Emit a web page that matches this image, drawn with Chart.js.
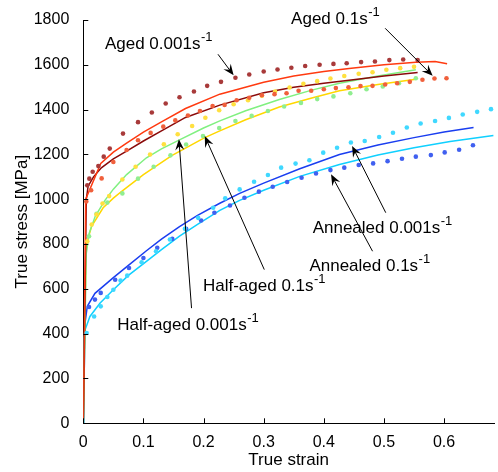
<!DOCTYPE html>
<html>
<head>
<meta charset="utf-8">
<script src="https://cdn.jsdelivr.net/npm/chart.js@4.4.0/dist/chart.umd.min.js"></script>
<style>
body{margin:0;background:#fff;}
</style>
</head>
<body>
<canvas id="stressChart" width="498" height="472"></canvas>
<script>
// tick labels
var xTicks = [0, 0.1, 0.2, 0.3, 0.4, 0.5, 0.6];
var yTicks = [0, 200, 400, 600, 800, 1000, 1200, 1400, 1600, 1800];

// model curves (solid lines)
var redLineX = [0, 0.004, 0.029, 0.05, 0.072, 0.1, 0.13, 0.17, 0.227, 0.3, 0.35, 0.4, 0.442, 0.5, 0.553, 0.585, 0.605];
var redLineY = [0, 1000, 1160, 1210, 1250, 1300, 1345, 1405, 1469, 1522, 1550, 1570, 1584, 1600, 1611, 1615, 1605];
var maroonLineX = [0, 0.005, 0.008, 0.017, 0.03, 0.05, 0.072, 0.1, 0.13, 0.17, 0.227, 0.3, 0.35, 0.4, 0.442, 0.5, 0.556];
var maroonLineY = [0, 1000, 1058, 1100, 1140, 1180, 1215, 1260, 1305, 1365, 1420, 1475, 1500, 1518, 1531, 1550, 1566];
var greenLineX = [0, 0.005, 0.01, 0.02, 0.036, 0.05, 0.072, 0.105, 0.13, 0.16, 0.2, 0.227, 0.27, 0.326, 0.38, 0.426, 0.49, 0.553];
var greenLineY = [0, 760, 850, 925, 995, 1045, 1110, 1185, 1225, 1265, 1318, 1350, 1395, 1445, 1487, 1518, 1550, 1578];
var yellowLineX = [0, 0.004, 0.0056, 0.014, 0.033, 0.05, 0.066, 0.1, 0.147, 0.202, 0.227, 0.27, 0.326, 0.38, 0.426, 0.49, 0.553];
var yellowLineY = [0, 700, 805, 880, 962, 1005, 1040, 1110, 1195, 1275, 1305, 1355, 1412, 1452, 1484, 1512, 1536];
var blueLineX = [0, 0.003, 0.0066, 0.0194, 0.05, 0.075, 0.105, 0.13, 0.16, 0.19, 0.227, 0.26, 0.3, 0.36, 0.426, 0.49, 0.55, 0.6, 0.649];
var blueLineY = [0, 450, 522, 580, 650, 705, 770, 822, 878, 928, 982, 1026, 1072, 1136, 1200, 1242, 1275, 1300, 1320];
var cyanLineX = [0, 0.001, 0.003, 0.011, 0.028, 0.05, 0.075, 0.105, 0.13, 0.16, 0.19, 0.227, 0.26, 0.3, 0.36, 0.426, 0.49, 0.55, 0.61, 0.682];
var cyanLineY = [0, 380, 417, 477, 537, 596, 660, 723, 775, 835, 888, 950, 995, 1040, 1102, 1155, 1197, 1230, 1258, 1285];

// experiments (dots)
var agedSlowX = [0.0066, 0.01, 0.0156, 0.025, 0.034, 0.044, 0.066, 0.091, 0.114, 0.137, 0.16, 0.184, 0.206, 0.229, 0.253, 0.276, 0.3, 0.323, 0.346, 0.369, 0.393, 0.416, 0.438, 0.462, 0.485, 0.509, 0.532, 0.556];
var agedSlowY = [1062, 1092, 1123, 1148, 1190, 1226, 1293, 1344, 1387, 1427, 1455, 1481, 1506, 1524, 1542, 1557, 1570, 1579, 1587, 1595, 1600, 1604, 1607, 1612, 1615, 1621, 1624, 1621];
var agedFastX = [0.005, 0.013, 0.0305, 0.05, 0.072, 0.091, 0.112, 0.133, 0.153, 0.174, 0.194, 0.215, 0.235, 0.255, 0.276, 0.297, 0.318, 0.338, 0.358, 0.379, 0.4, 0.42, 0.441, 0.461, 0.481, 0.502, 0.522, 0.543, 0.564, 0.584, 0.604];
var agedFastY = [990, 1040, 1093, 1166, 1220, 1263, 1296, 1324, 1352, 1374, 1394, 1416, 1421, 1442, 1453, 1464, 1469, 1473, 1484, 1484, 1491, 1496, 1500, 1505, 1506, 1512, 1518, 1524, 1533, 1539, 1540];
var halfSlowX = [0.0066, 0.014, 0.022, 0.032, 0.043, 0.065, 0.087, 0.111, 0.134, 0.157, 0.181, 0.203, 0.226, 0.25, 0.274, 0.297, 0.319, 0.343, 0.366, 0.389, 0.411, 0.434, 0.458, 0.481, 0.504, 0.527, 0.55];
var halfSlowY = [812, 887, 932, 981, 1014, 1088, 1145, 1200, 1245, 1290, 1327, 1364, 1397, 1424, 1442, 1462, 1481, 1499, 1515, 1527, 1539, 1550, 1560, 1567, 1578, 1585, 1591];
var halfFastX = [0.0095, 0.022, 0.04, 0.065, 0.091, 0.117, 0.145, 0.171, 0.199, 0.226, 0.253, 0.28, 0.307, 0.334, 0.362, 0.389, 0.416, 0.444, 0.471, 0.498, 0.525, 0.553];
var halfFastY = [835, 935, 985, 1026, 1092, 1145, 1196, 1244, 1282, 1318, 1349, 1372, 1394, 1414, 1430, 1447, 1459, 1473, 1491, 1503, 1518, 1540];
var annealedFastX = [0.0095, 0.0194, 0.029, 0.053, 0.076, 0.1, 0.123, 0.148, 0.171, 0.196, 0.218, 0.244, 0.268, 0.292, 0.315, 0.339, 0.363, 0.387, 0.411, 0.434, 0.458, 0.482, 0.506, 0.53, 0.553, 0.578, 0.601, 0.625, 0.648];
var annealedFastY = [519, 552, 582, 641, 693, 738, 783, 823, 868, 905, 940, 972, 1007, 1034, 1056, 1077, 1096, 1115, 1130, 1141, 1153, 1160, 1170, 1181, 1190, 1197, 1209, 1221, 1241];
var annealedSlowX = [0.0056, 0.018, 0.029, 0.04, 0.05, 0.062, 0.073, 0.097, 0.121, 0.144, 0.169, 0.191, 0.216, 0.236, 0.26, 0.284, 0.307, 0.329, 0.353, 0.376, 0.399, 0.422, 0.445, 0.468, 0.492, 0.515, 0.538, 0.561, 0.585, 0.608, 0.631, 0.655, 0.678];
var annealedSlowY = [403, 477, 522, 564, 596, 637, 659, 719, 768, 820, 868, 917, 962, 1004, 1044, 1078, 1108, 1141, 1159, 1174, 1208, 1230, 1253, 1260, 1278, 1297, 1320, 1338, 1349, 1363, 1378, 1390, 1402];

// annotations (data units)
var notes = [
    {text: 'Aged 0.001s', x: 0.036, y: 1670},
    {text: 'Aged 0.1s', x: 0.3456, y: 1782},
    {text: 'Half-aged 0.001s', x: 0.0564, y: 417},
    {text: 'Half-aged 0.1s', x: 0.199, y: 589},
    {text: 'Annealed 0.001s', x: 0.3814, y: 850},
    {text: 'Annealed 0.1s', x: 0.376, y: 678}
];
var arrows = [
    [0.224, 1647, 0.25, 1553],
    [0.502, 1763, 0.581, 1551],
    [0.18, 514, 0.159, 1268],
    [0.301, 686, 0.202, 1282],
    [0.503, 940, 0.447, 1238],
    [0.481, 768, 0.412, 1111]
];

var fontFam = '"Liberation Sans", Arial, sans-serif';

function pts(xs, ys){
    return xs.map(function(x, i){ return {x: x, y: ys[i]}; });
}
function line(xs, ys, color){
    return {data: pts(xs, ys), showLine: true, borderColor: color, borderWidth: 1.5,
        pointRadius: 0, tension: 0, fill: false};
}
function dots(xs, ys, color){
    return {data: pts(xs, ys), showLine: false, backgroundColor: color, borderWidth: 0,
        pointRadius: 2.3};
}

// inner tick marks
var innerTicks = {
    id: 'innerTicks',
    afterDraw: function(chart){
        var ctx = chart.ctx, a = chart.chartArea, sx = chart.scales.x, sy = chart.scales.y;
        ctx.save();
        ctx.strokeStyle = '#000';
        ctx.lineWidth = 1;
        ctx.beginPath();
        xTicks.forEach(function(v){
            var p = Math.round(sx.getPixelForValue(v)) + 0.5;
            ctx.moveTo(p, a.bottom); ctx.lineTo(p, a.bottom - 5);
        });
        yTicks.forEach(function(v){
            var p = Math.round(sy.getPixelForValue(v)) + 0.5;
            ctx.moveTo(a.left, p); ctx.lineTo(a.left + 5, p);
        });
        ctx.stroke();
        ctx.restore();
    }
};

// labels with superscript and arrows
var notesPlugin = {
    id: 'notes',
    afterDraw: function(chart){
        var ctx = chart.ctx, sx = chart.scales.x, sy = chart.scales.y;
        ctx.save();
        ctx.fillStyle = '#000';
        ctx.strokeStyle = '#000';
        ctx.lineWidth = 1;
        notes.forEach(function(n){
            var px = sx.getPixelForValue(n.x), py = sy.getPixelForValue(n.y);
            ctx.font = '17px ' + fontFam;
            ctx.textBaseline = 'alphabetic';
            ctx.fillText(n.text, px, py);
            var w = ctx.measureText(n.text).width;
            ctx.font = '13px ' + fontFam;
            ctx.fillText('-1', px + w + 0.5, py - 8);
        });
        arrows.forEach(function(ar){
            var x0 = sx.getPixelForValue(ar[0]), y0 = sy.getPixelForValue(ar[1]);
            var x1 = sx.getPixelForValue(ar[2]), y1 = sy.getPixelForValue(ar[3]);
            var ang = Math.atan2(y1 - y0, x1 - x0);
            ctx.beginPath();
            ctx.moveTo(x0, y0);
            ctx.lineTo(x1 - 6 * Math.cos(ang), y1 - 6 * Math.sin(ang));
            ctx.stroke();
            var len = 11, hw = 4.5, notch = 7;
            var c = Math.cos(ang), s = Math.sin(ang);
            ctx.beginPath();
            ctx.moveTo(x1, y1);
            ctx.lineTo(x1 - len * c + hw * s, y1 - len * s - hw * c);
            ctx.lineTo(x1 - notch * c, y1 - notch * s);
            ctx.lineTo(x1 - len * c - hw * s, y1 - len * s + hw * c);
            ctx.closePath();
            ctx.fill();
        });
        ctx.restore();
    }
};

new Chart(document.getElementById('stressChart'), {
    type: 'scatter',
    data: {
        datasets: [
            dots(agedSlowX, agedSlowY, '#a83a3a'),
            dots(agedFastX, agedFastY, '#f0603c'),
            dots(halfSlowX, halfSlowY, '#ffe040'),
            dots(halfFastX, halfFastY, '#90ee90'),
            dots(annealedSlowX, annealedSlowY, '#40d8ff'),
            dots(annealedFastX, annealedFastY, '#4060f0'),
            line(redLineX, redLineY, '#ff3a10'),
            line(maroonLineX, maroonLineY, '#8a0a0a'),
            line(greenLineX, greenLineY, '#80f080'),
            line(yellowLineX, yellowLineY, '#ffd700'),
            line(blueLineX, blueLineY, '#1a3ef0'),
            line(cyanLineX, cyanLineY, '#10d0ff')
        ]
    },
    options: {
        responsive: false,
        animation: false,
        layout: {padding: {top: 20, right: 0, left: 0, bottom: 0}},
        plugins: {legend: {display: false}, tooltip: {enabled: false}},
        scales: {
            x: {
                type: 'linear', min: 0, max: 0.683,
                afterBuildTicks: function(s){ s.ticks = xTicks.map(function(v){ return {value: v}; }); },
                afterFit: function(s){ s.height = 48.7; },
                grid: {display: false},
                border: {display: true, color: '#000', width: 1},
                ticks: {color: '#000', padding: 2, maxRotation: 0, font: {family: fontFam, size: 16},
                    callback: function(v){ return String(v); }},
                title: {display: true, text: 'True strain', color: '#000', padding: {top: 0, bottom: 1},
                    font: {family: fontFam, size: 17}}
            },
            y: {
                type: 'linear', min: 0, max: 1800,
                afterBuildTicks: function(s){ s.ticks = yTicks.map(function(v){ return {value: v}; }); },
                afterFit: function(s){ s.width = 83.3; },
                grid: {display: false},
                border: {display: true, color: '#000', width: 1},
                ticks: {color: '#000', padding: 6, font: {family: fontFam, size: 16},
                    callback: function(v){ return String(v); }},
                title: {display: true, text: 'True stress [MPa]', color: '#000', padding: {top: 12, bottom: 0},
                    font: {family: fontFam, size: 17}}
            }
        }
    },
    plugins: [innerTicks, notesPlugin]
});
</script>
</body>
</html>
